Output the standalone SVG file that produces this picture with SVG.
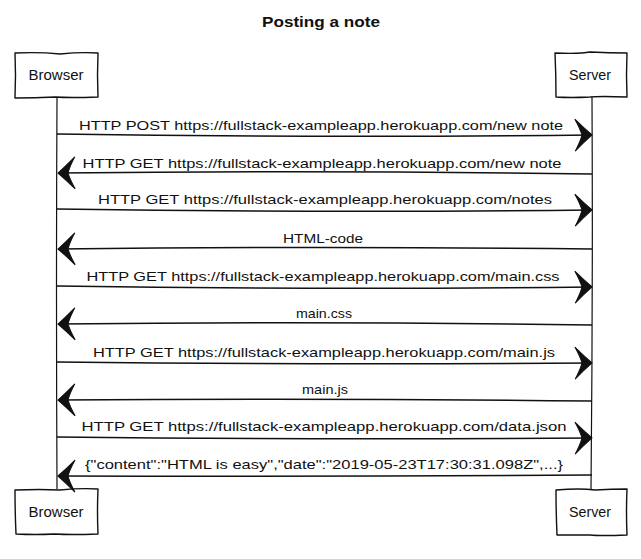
<svg xmlns="http://www.w3.org/2000/svg" width="641" height="559" viewBox="0 0 641 559">
<style>
.bg{fill:#fff}
.box{fill:#fff;stroke:#111;stroke-width:1.4;stroke-linejoin:round}
.life{fill:none;stroke:#111;stroke-width:1.2}
.msg{fill:none;stroke:#111;stroke-width:1.5;marker-end:url(#head)}
.lbl{font-family:"Liberation Sans",Arial,sans-serif;font-size:13.5px;fill:#111;text-anchor:middle}
.name{font-family:"Liberation Sans",Arial,sans-serif;font-size:14px;fill:#111;text-anchor:middle}
.title{font-family:"Liberation Sans",Arial,sans-serif;font-size:15px;font-weight:bold;fill:#111;text-anchor:middle}
</style>
<defs>
<marker id="head" markerUnits="userSpaceOnUse" markerWidth="24" markerHeight="36" refX="20" refY="17" orient="auto" overflow="visible">
<path d="M20,17 Q12,10 3,1 Q8,10 10,17 Q8,24 3,33 Q12,24 20,17 Z" fill="#111" stroke="#111" stroke-width="1"/>
</marker>
</defs>
<rect class="bg" x="0" y="0" width="641" height="559"/>
<text class="title" x="321" y="27" textLength="118" lengthAdjust="spacingAndGlyphs">Posting a note</text>
<g id="lifelines">
<path class="life" d="M57,98 Q56,290 57,489"/>
<path class="life" d="M592,97 Q593,290 591,489"/>
</g>
<g id="browser-top">
<path class="box" d="M15,53 Q40,52 60,54 Q80,52 98,53 Q97,75 98,97 Q70,98 55,97 Q35,98 15,98 Q16,75 15,53 Z"/>
<text class="name" x="56" y="80" textLength="55" lengthAdjust="spacingAndGlyphs">Browser</text>
</g>
<g id="server-top">
<path class="box" d="M555,53 Q580,54 590,52 Q610,53 627,53 Q626,75 627,97 Q600,96 590,97 Q570,98 556,97 Q556,75 555,53 Z"/>
<text class="name" x="590" y="80" textLength="42" lengthAdjust="spacingAndGlyphs">Server</text>
</g>
<g id="browser-bottom">
<path class="box" d="M15,490 Q40,489 60,490 Q80,488 98,489 Q97,512 98,534 Q70,535 55,534 Q35,535 16,534 Q15,512 15,490 Z"/>
<text class="name" x="56" y="517" textLength="55" lengthAdjust="spacingAndGlyphs">Browser</text>
</g>
<g id="server-bottom">
<path class="box" d="M556,490 Q580,488 595,490 Q612,489 627,489 Q626,512 627,535 Q600,536 590,535 Q570,535 557,535 Q556,512 556,490 Z"/>
<text class="name" x="590" y="517" textLength="42" lengthAdjust="spacingAndGlyphs">Server</text>
</g>
<g id="connectors">
<path class="msg" d="M57,134 Q320,138 592,135"/>
<path class="msg" d="M592,174 Q320,170 58,173"/>
<path class="msg" d="M57,209 Q330,213 592,210"/>
<path class="msg" d="M592,249 Q320,246 58,249"/>
<path class="msg" d="M57,286 Q320,290 592,287"/>
<path class="msg" d="M592,325 Q320,321 58,324"/>
<path class="msg" d="M57,362 Q320,365 592,363"/>
<path class="msg" d="M592,401 Q320,398 58,400"/>
<path class="msg" d="M57,437 Q320,440 592,438"/>
<path class="msg" d="M592,475 Q320,477 58,476"/>
</g>
<g id="labels">
<text class="lbl" x="321" y="130" textLength="484" lengthAdjust="spacingAndGlyphs">HTTP POST https://fullstack-exampleapp.herokuapp.com/new note</text>
<text class="lbl" x="322" y="168" textLength="479" lengthAdjust="spacingAndGlyphs">HTTP GET https://fullstack-exampleapp.herokuapp.com/new note</text>
<text class="lbl" x="325" y="204" textLength="454" lengthAdjust="spacingAndGlyphs">HTTP GET https://fullstack-exampleapp.herokuapp.com/notes</text>
<text class="lbl" x="323" y="243" textLength="80" lengthAdjust="spacingAndGlyphs">HTML-code</text>
<text class="lbl" x="323" y="281" textLength="473" lengthAdjust="spacingAndGlyphs">HTTP GET https://fullstack-exampleapp.herokuapp.com/main.css</text>
<text class="lbl" x="324" y="318" textLength="56" lengthAdjust="spacingAndGlyphs">main.css</text>
<text class="lbl" x="324" y="357" textLength="462" lengthAdjust="spacingAndGlyphs">HTTP GET https://fullstack-exampleapp.herokuapp.com/main.js</text>
<text class="lbl" x="325" y="394" textLength="46" lengthAdjust="spacingAndGlyphs">main.js</text>
<text class="lbl" x="324" y="431" textLength="485" lengthAdjust="spacingAndGlyphs">HTTP GET https://fullstack-exampleapp.herokuapp.com/data.json</text>
<text class="lbl" x="324" y="469" textLength="478" lengthAdjust="spacingAndGlyphs">{"content":"HTML is easy","date":"2019-05-23T17:30:31.098Z",...}</text>
</g>
</svg>
